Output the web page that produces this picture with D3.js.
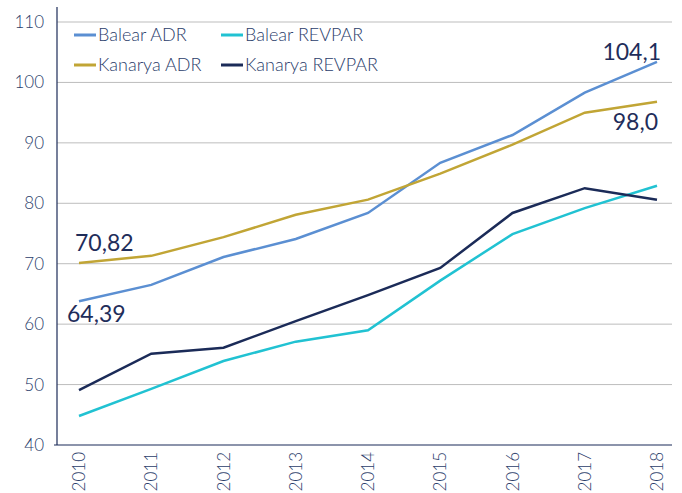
<!DOCTYPE html>
<html>
<head>
<meta charset="utf-8">
<script src="https://cdn.jsdelivr.net/npm/d3@7"></script>
<style>
  body { margin: 0; background: #fff; }
  svg text { font-family: Lato, "Open Sans", sans-serif; font-weight: 300; fill: #2b3d6b; }
</style>
</head>
<body>
<div id="chart"></div>
<script>
var years = ["2010", "2011", "2012", "2013", "2014", "2015", "2016", "2017", "2018"];
var balearADR    = [63.8, 66.5, 71.1, 74.1, 78.4, 86.7, 91.3, 98.3, 103.4];
var balearREVPAR = [44.8, 49.3, 53.9, 57.1, 59.0, 67.2, 74.9, 79.2, 82.9];
var kanaryaADR   = [70.1, 71.3, 74.4, 78.1, 80.6, 84.9, 89.7, 95.0, 96.8];
var kanaryaREVPAR = [49.1, 55.1, 56.1, 60.5, 64.8, 69.3, 78.4, 82.5, 80.6];
var yTicks = [40, 50, 60, 70, 80, 90, 100, 110];

var series = [
  {name: "Balear ADR", values: balearADR, color: "#5b8fd2"},
  {name: "Balear REVPAR", values: balearREVPAR, color: "#21c2d2"},
  {name: "Kanarya ADR", values: kanaryaADR, color: "#c1a535"},
  {name: "Kanarya REVPAR", values: kanaryaREVPAR, color: "#1b2b58"}
];

var width = 682, height = 493;
var plotLeft = 57, plotRight = 672, plotTop = 22, plotBottom = 445;

var svg = d3.select("#chart").append("svg")
    .attr("width", width)
    .attr("height", height);

var x = d3.scalePoint().domain(years).range([79, 657]);
var y = d3.scaleLinear().domain([40, 110]).range([plotBottom, plotTop]);

// gridlines
svg.append("g").selectAll("line")
    .data(yTicks.filter(function(d) { return d > 40; }))
  .enter().append("line")
    .attr("x1", plotLeft).attr("x2", plotRight)
    .attr("y1", function(d) { return y(d); })
    .attr("y2", function(d) { return y(d); })
    .style("stroke", "#bdbdbd")
    .style("stroke-width", 1);

// y tick labels
svg.append("g").selectAll("text")
    .data(yTicks)
  .enter().append("text")
    .attr("x", 44)
    .attr("y", function(d) { return y(d); })
    .attr("dy", "0.35em")
    .attr("text-anchor", "end")
    .style("font-size", "17px")
    .text(function(d) { return d; });

// axes lines
svg.append("line")
    .attr("x1", plotLeft).attr("x2", plotLeft)
    .attr("y1", 7).attr("y2", plotBottom)
    .style("stroke", "#1b2b58").style("stroke-width", 1.2);
svg.append("line")
    .attr("x1", plotLeft - 3).attr("x2", plotRight)
    .attr("y1", plotBottom).attr("y2", plotBottom)
    .style("stroke", "#1b2b58").style("stroke-width", 1.2);

// x labels
svg.append("g").selectAll("text")
    .data(years)
  .enter().append("text")
    .attr("transform", function(d) { return "translate(" + (x(d) + 6) + ",452) rotate(-90)"; })
    .attr("text-anchor", "end")
    .style("font-size", "17px")
    .text(function(d) { return d; });

// lines
var line = d3.line()
    .x(function(d, i) { return x(years[i]); })
    .y(function(d) { return y(d); });

svg.append("g").selectAll("path")
    .data(series)
  .enter().append("path")
    .attr("d", function(d) { return line(d.values); })
    .style("fill", "none")
    .style("stroke", function(d) { return d.color; })
    .style("stroke-width", 2.5);

// annotations
var notes = [
  {text: "70,82", x: 75, y: 251, anchor: "start"},
  {text: "64,39", x: 67, y: 322, anchor: "start"},
  {text: "104,1", x: 661, y: 60, anchor: "end"},
  {text: "98,0", x: 658, y: 130, anchor: "end"}
];
svg.append("g").selectAll("text")
    .data(notes)
  .enter().append("text")
    .attr("x", function(d) { return d.x; })
    .attr("y", function(d) { return d.y; })
    .attr("text-anchor", function(d) { return d.anchor; })
    .style("font-size", "23px")
    .style("font-weight", 400)
    .style("fill", "#1f2d5a")
    .text(function(d) { return d.text; });

// legend
var legendPos = [[74, 35], [221, 35], [74, 65], [221, 65]];
var legend = svg.append("g").selectAll("g")
    .data(series)
  .enter().append("g")
    .attr("transform", function(d, i) { return "translate(" + legendPos[i][0] + "," + legendPos[i][1] + ")"; });
legend.append("line")
    .attr("x1", 0).attr("x2", 22)
    .style("stroke", function(d) { return d.color; })
    .style("stroke-width", 3);
legend.append("text")
    .attr("x", 24)
    .attr("dy", "0.35em")
    .style("font-size", "18px")
    .text(function(d) { return d.name; });
</script>
</body>
</html>
